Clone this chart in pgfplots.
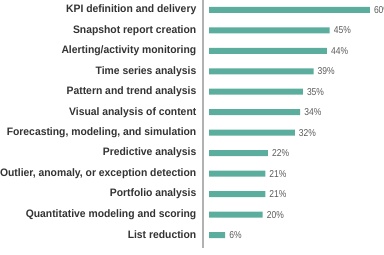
\documentclass[border=0pt]{standalone}
\usepackage{pgfplots}
\pgfplotsset{compat=1.18}
\usepackage{fontspec}
\setmainfont{Liberation Sans}
\newfontfamily\labfont[FakeStretch=0.96]{Liberation Sans}
\newfontfamily\valfont[FakeStretch=0.85]{Liberation Sans}
\definecolor{barc}{HTML}{5BAE9E}
\definecolor{labc}{HTML}{333333}
\definecolor{valc}{HTML}{5A5A5A}
\begin{document}
\begin{tikzpicture}
\begin{axis}[
  at={(203bp,7bp)}, anchor=south west,
  scale only axis, width=181bp, height=248bp,
  xmin=-2.24, xmax=65.3, ymin=-0.63, ymax=11.48,
  axis x line=none,
  axis y line*=left,
  y axis line style={-, draw=gray!60, line width=1.3bp},
  ytick={0,...,11},
  yticklabels={List reduction,Quantitative modeling and scoring,Portfolio analysis,{Outlier, anomaly, or exception detection},Predictive analysis,{Forecasting, modeling, and simulation},Visual analysis of content,Pattern and trend analysis,Time series analysis,Alerting/activity monitoring,Snapshot report creation,KPI definition and delivery},
  yticklabel style={font=\labfont\bfseries\fontsize{10.8bp}{12bp}\selectfont, text=labc, inner sep=0pt, xshift=-6.5bp},
  major tick length=0pt,
  xbar, bar width=6bp, bar shift=0pt,
  clip=false,
  /pgf/number format/assume math mode=true,
  nodes near coords={\pgfmathprintnumber{\pgfplotspointmeta}\%},
  nodes near coords style={font=\valfont\fontsize{10bp}{11bp}\selectfont, text=valc, anchor=west, inner sep=0pt, xshift=4bp},
]
\addplot[fill=barc, draw=none] coordinates {
(6,0) (20,1) (21,2) (21,3) (22,4) (32,5) (34,6) (35,7) (39,8) (44,9) (45,10) (60,11)
};
\end{axis}
\pgfresetboundingbox
\useasboundingbox (0bp,0bp) rectangle (384bp,255bp);
\end{tikzpicture}
\end{document}
